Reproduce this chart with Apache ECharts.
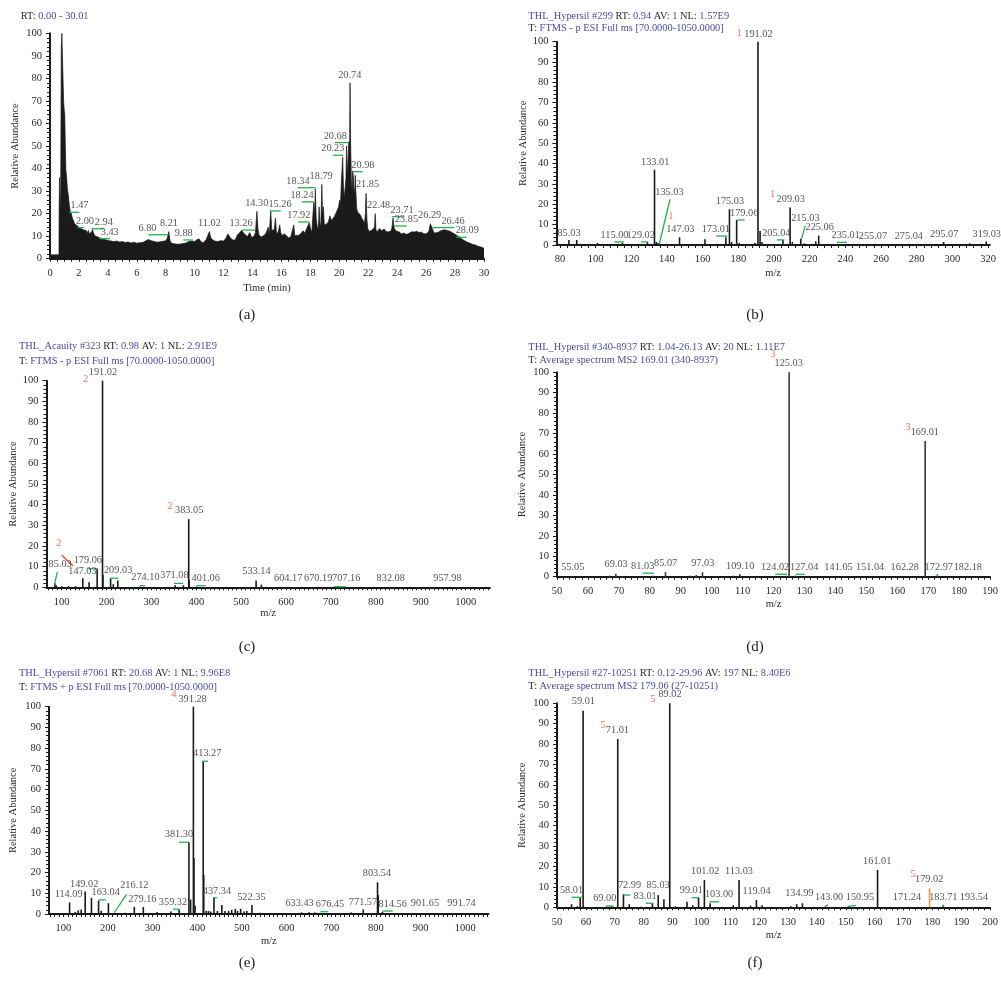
<!DOCTYPE html>
<html>
<head>
<meta charset="utf-8">
<script src="https://cdn.jsdelivr.net/npm/echarts@6/dist/echarts.min.js"></script>
<style>
html, body { margin: 0; padding: 0; background: #fff; }
#main { width: 1001px; height: 983px; }
</style>
</head>
<body>
<div id="main"></div>
<script>
// ---------- data ----------
// (a) total ion chromatogram: [time (min), relative abundance]
var chromatogram = [
    [0, 1.7], [0.3, 1.7], [0.62, 1.7], [0.63, 20], [0.66, 36], [0.7, 22], [0.74, 30], [0.78, 94], [0.82, 100], [0.86, 100],
    [0.9, 80], [0.94, 70], [0.98, 66], [1.02, 64], [1.06, 50], [1.1, 39], [1.15, 36], [1.2, 31], [1.27, 28], [1.33, 24],
    [1.4, 21], [1.47, 20], [1.55, 18], [1.62, 17], [1.7, 15.5], [1.8, 15], [1.9, 14.5], [2.0, 14], [2.1, 13.5], [2.2, 13.8],
    [2.3, 12.8], [2.4, 13], [2.5, 12.5], [2.58, 11.2], [2.65, 12.6], [2.72, 11], [2.8, 10.5], [2.88, 12], [2.94, 13], [3.0, 11.5],
    [3.1, 10.2], [3.2, 10], [3.3, 9.6], [3.43, 9.2], [3.55, 9], [3.7, 8.6], [3.85, 8.4], [4.0, 8.1], [4.2, 7.9], [4.4, 7.6],
    [4.6, 7.8], [4.8, 7.4], [5.0, 7.6], [5.2, 7.2], [5.4, 7.4], [5.6, 7.0], [5.8, 7.3], [6.0, 6.9], [6.2, 7.1], [6.4, 7.2],
    [6.6, 7.8], [6.8, 8.5], [7.0, 8.0], [7.2, 7.6], [7.4, 7.3], [7.6, 7.5], [7.8, 7.7], [8.0, 8.0], [8.1, 9], [8.21, 12],
    [8.3, 8], [8.4, 6.8], [8.6, 6.6], [8.8, 6.4], [9.0, 6.5], [9.2, 6.7], [9.4, 7], [9.6, 7.6], [9.75, 7.8], [9.88, 8.2],
    [10.0, 7.6], [10.15, 8.4], [10.3, 8.8], [10.45, 7.4], [10.6, 7.2], [10.8, 8.5], [10.95, 11], [11.02, 12], [11.1, 9.5], [11.25, 8.3],
    [11.4, 7.8], [11.6, 7.6], [11.8, 8], [12.0, 7.8], [12.15, 9], [12.3, 11], [12.45, 9.4], [12.6, 8.4], [12.8, 8.2], [12.95, 10.5],
    [13.1, 11.5], [13.26, 12.6], [13.4, 11.2], [13.5, 10.4], [13.65, 9.8], [13.8, 11.6], [13.95, 9.4], [14.1, 10], [14.2, 11.5], [14.3, 21],
    [14.38, 13], [14.45, 10.5], [14.6, 9.6], [14.75, 10.2], [14.9, 11], [15.0, 12.5], [15.08, 14], [15.15, 11], [15.26, 21], [15.33, 12.5],
    [15.42, 11.8], [15.5, 13], [15.58, 18], [15.65, 12], [15.72, 11], [15.8, 12.5], [15.88, 15], [15.95, 11.5], [16.05, 10.4], [16.2, 11],
    [16.35, 10.2], [16.5, 9.2], [16.65, 9.8], [16.75, 10.3], [16.85, 15], [16.92, 10.2], [17.05, 9.8], [17.2, 10.4], [17.35, 11.2], [17.5, 12.4],
    [17.6, 11.3], [17.7, 12], [17.82, 14.5], [17.92, 16], [18.02, 13], [18.1, 12], [18.18, 20], [18.24, 25], [18.29, 19], [18.34, 31],
    [18.4, 18], [18.47, 14.5], [18.55, 13], [18.6, 23], [18.66, 16], [18.72, 14], [18.79, 33], [18.84, 20], [18.9, 23], [18.96, 15],
    [19.05, 14.2], [19.15, 15.5], [19.25, 16.5], [19.35, 19], [19.45, 17], [19.55, 17.8], [19.65, 18.6], [19.75, 20], [19.85, 21.5], [19.95, 23],
    [20.02, 26], [20.08, 24], [20.14, 34], [20.19, 40], [20.23, 45], [20.28, 33], [20.34, 27], [20.4, 31], [20.46, 36], [20.5, 50],
    [20.55, 37], [20.6, 44], [20.64, 51], [20.68, 52], [20.71, 50], [20.74, 78], [20.78, 52], [20.83, 35], [20.88, 30], [20.92, 39],
    [20.98, 36], [21.03, 28], [21.08, 32], [21.1, 37], [21.14, 30], [21.2, 22], [21.28, 20.5], [21.36, 21], [21.45, 19.5], [21.55, 18],
    [21.65, 17], [21.74, 15.5], [21.8, 20], [21.85, 29], [21.9, 18], [21.96, 13.5], [22.05, 12.2], [22.15, 13], [22.25, 12.6], [22.35, 13.2],
    [22.43, 14], [22.48, 20], [22.53, 13], [22.6, 12], [22.7, 12.8], [22.8, 13.4], [22.9, 12.4], [23.0, 12.8], [23.1, 13.2], [23.2, 12.2],
    [23.3, 12.8], [23.4, 11.8], [23.5, 12.4], [23.6, 12.6], [23.66, 15], [23.71, 18], [23.76, 15], [23.8, 13.5], [23.85, 14], [23.9, 12.4],
    [24.0, 11.6], [24.15, 11.8], [24.3, 11], [24.45, 11.4], [24.6, 10.8], [24.75, 11], [24.9, 11.6], [25.05, 12], [25.2, 11.8], [25.35, 12.2],
    [25.5, 11.6], [25.65, 11.8], [25.8, 11.2], [25.95, 11], [26.1, 11.4], [26.2, 12.4], [26.29, 15.5], [26.36, 14.8], [26.45, 13], [26.55, 11.4],
    [26.65, 11], [26.8, 11.6], [26.95, 12.2], [27.1, 12.6], [27.25, 12.8], [27.4, 12.6], [27.55, 12.4], [27.7, 12], [27.85, 11.4], [28.0, 10.8],
    [28.15, 10.2], [28.3, 9.6], [28.45, 8.8], [28.6, 8.2], [28.75, 7.6], [28.9, 7.2], [29.05, 6.8], [29.2, 6.4], [29.35, 6.2], [29.5, 5.8],
    [29.65, 5.4], [29.8, 5.2], [29.9, 4.9], [30.0, 4.6]
];

// (b) full MS, #299
var bMz = [85.03, 89.4, 101.1, 120.0, 115.00, 129.02, 133.01, 134.0, 135.03, 147.03, 150.0, 161.3, 173.01, 175.03, 176.2, 179.06, 180.5,
    189.3, 191.02, 192.2, 193.3, 205.04, 207.4, 209.03, 210.3, 215.03, 217.0, 223.4, 225.06, 235.01, 255.07, 275.04, 289.3, 295.07, 309.7, 319.03];
var bAbund = [2.5, 2.5, 1, 0.5, 1, 1.5, 37, 1.5, 1, 3.8, 0.5, 2.8, 3.8, 17.6, 1.5, 12.3, 1, 1, 100, 6.9, 1.5, 2.5, 0.5, 18.5, 1.5, 3,
    0.8, 1.8, 4.6, 0.5, 0.3, 0.2, 0.5, 1.5, 0.8, 1.8];

// (c) full MS, #323
var cMz = [85.03, 88, 100, 115, 131, 147.03, 161, 179.06, 191.02, 192, 209.03, 215, 225, 274.10, 353, 371.08, 383.05, 384, 401.06,
    533.14, 545, 604.17, 670.19, 707.16, 832.08, 957.98];
var cAbund = [2, 1, 0.5, 0.5, 0.5, 4.4, 2.4, 8.9, 100, 6, 4.3, 1.5, 3.3, 0.4, 1, 1, 33, 3.5, 0.4, 3.3, 1.3, 0.2, 0.2, 0.3, 0.1, 0.1];

// (d) MS2 of 169.01
var dMz = [55.05, 67.0, 69.03, 71.0, 81.03, 85.07, 93.0, 95.0, 97.03, 107.0, 109.10, 124.02, 125.03, 127.04, 141.05, 151.04, 162.28,
    169.01, 172.97, 182.18];
var dAbund = [0.3, 0.5, 1.5, 0.3, 0.5, 2.2, 0.5, 0.8, 2.2, 0.5, 1.2, 0.5, 100, 0.5, 0.2, 0.2, 0.1, 66.4, 0.5, 0.1];

// (e) full MS (+), #7061
var eMz = [114.09, 127, 133.5, 140, 149.02, 163.04, 179, 185, 201, 216.12, 238, 259, 279.16, 310, 341, 359.32, 381.30, 385, 391.28,
    392.5, 395, 413.27, 414.5, 420, 425, 430, 437.34, 445, 455, 462, 470, 477, 485, 490, 497, 505, 511, 522.35, 540, 633.43, 650, 663,
    676.45, 710, 745, 771.57, 803.54, 805, 814.56, 870, 901.65, 991.74];
var eAbund = [5.6, 1, 1.8, 2.2, 10.8, 7.8, 6.5, 1.5, 5.2, 0.5, 0.6, 3.4, 3.4, 1, 1.2, 2, 34.6, 7, 100, 27, 4, 73.5, 18.8, 1.5, 1.5,
    1.2, 7.9, 1.5, 4.3, 1.5, 1.5, 2, 2.5, 1.5, 2.5, 1.2, 1.5, 4.3, 0.6, 0.8, 0.8, 0.8, 0.5, 0.4, 0.8, 2.2, 15.3, 9.2, 1, 0.5, 0.3, 0.2];

// (f) MS2 of 179.06
var fMz = [55.0, 57.0, 58.01, 59.01, 69.00, 71.01, 72.99, 75.0, 79.0, 83.01, 85.03, 87.0, 89.02, 91.0, 95.0, 97.0, 99.01, 101.02,
    103.00, 111.0, 113.03, 117.0, 119.04, 121.0, 131.0, 133.0, 134.99, 143.00, 150.95, 161.01, 171.24, 183.71, 193.54];
var fAbund = [1.5, 0.5, 4.7, 96.4, 0.5, 82.5, 6.4, 1.5, 0.3, 2, 6, 4, 100, 0.5, 2.7, 1, 4.7, 13.4, 2, 1, 13.4, 0.8, 3.6, 1, 0.5,
    1.5, 2, 0.5, 0.5, 18.3, 0.2, 0.5, 0.2];
var fPrecursorMz = [179.02];
var fPrecursorAbund = [9.3];

// ---------- annotations: [text, m/z or time, abundance level] ----------
var aNotes = [['1.47', 2.04, 20.6], ['2.00', 2.42, 13.8], ['2.94', 3.72, 13.3], ['3.43', 4.13, 8.9], ['6.80', 6.74, 10.6],
    ['8.21', 8.22, 12.7], ['9.88', 9.24, 8.3], ['11.02', 11.02, 12.7], ['13.26', 13.2, 12.7], ['14.30', 14.29, 21.6],
    ['15.26', 15.9, 21.2], ['17.92', 17.2, 16.3], ['18.24', 17.42, 25.2], ['18.34', 17.14, 31.5], ['18.79', 18.74, 33.7],
    ['20.23', 19.55, 45.9], ['20.68', 19.72, 51.5], ['20.74', 20.72, 78.5], ['20.98', 21.63, 38.6], ['21.85', 21.95, 30],
    ['22.48', 22.72, 20.7], ['23.71', 24.33, 18.6], ['23.85', 24.64, 14.5], ['26.29', 26.24, 16.3], ['26.46', 27.86, 13.8],
    ['28.09', 28.84, 9.5]];
var aLeads = [[1.33, 20.6, 2.03, 20.6], [1.89, 13.8, 2.35, 13.8], [2.88, 13.3, 3.73, 13.3], [3.41, 8.9, 4.15, 8.9],
    [6.8, 10.6, 8.18, 10.6], [9.22, 8.3, 9.9, 8.3], [13.29, 12.7, 14.17, 12.7], [15.2, 21.2, 15.95, 21.2],
    [17.16, 16.3, 17.92, 16.3], [17.4, 25.2, 18.25, 25.2], [17.12, 31.5, 18.36, 31.5], [19.58, 45.9, 20.27, 45.9],
    [19.7, 51.5, 20.62, 51.5], [20.92, 38.6, 21.62, 38.6], [23.62, 18.6, 24.42, 18.6], [23.8, 14.5, 24.66, 14.5],
    [26.43, 13.8, 27.93, 13.8], [28.06, 9.5, 28.8, 9.5]];

var bNotes = [['85.03', 85.05, 2.5], ['115.00', 110.6, 1.6], ['129.02', 125.3, 1.6], ['133.01', 133.4, 37.7],
    ['135.03', 141.4, 22.5], ['147.03', 147.5, 4.6], ['173.01', 167.4, 4.5], ['175.03', 175.3, 18.5], ['179.06', 183.3, 12.4],
    ['191.02', 191.3, 100.5], ['205.04', 201.3, 2.6], ['209.03', 209.4, 19.2], ['215.03', 217.6, 9.8], ['225.06', 225.6, 5.7],
    ['235.01', 240.2, 1.4], ['255.07', 255.5, 1.3], ['275.04', 275.6, 1], ['295.07', 295.4, 2], ['319.03', 319.3, 2]];
var bLeads = [[110.5, 1.5, 115.9, 1.5], [125.4, 1.5, 129.5, 1.5], [135.7, 0.5, 141.7, 22.5], [167.5, 4.4, 173.9, 4.4],
    [179.4, 12.3, 183.5, 12.3], [201.5, 2.5, 205.8, 2.5], [215.4, 2.8, 217.5, 9.4], [235.2, 1.3, 240.8, 1.3]];
var bMarks = [[180.4, 100.8], [199.3, 21.6], [142.2, 10.8]];

var cNotes = [['85.03', 96.7, 8], ['147.03', 146.3, 4.4], ['179.06', 158.2, 9.7], ['191.02', 192, 101], ['209.03', 225.8, 5.1],
    ['274.10', 286.7, 1.6], ['371.08', 351.3, 2.7], ['383.05', 384, 34.2], ['401.06', 421, 1.1], ['533.14', 534, 4.4],
    ['604.17', 604.6, 1], ['670.19', 671.4, 1], ['707.16', 733.8, 1], ['832.08', 833.1, 1], ['957.98', 959.4, 1]];
var cLeads = [[83.5, 1.1, 90.2, 7.3], [157.9, 9.0, 180.2, 9.0], [207.6, 4.4, 226.1, 4.4], [274.4, 0.8, 285.6, 0.8],
    [350.2, 1.9, 370.9, 1.9], [400.7, 0.8, 420.8, 0.8], [707.3, 0.3, 732.7, 0.3]];
var cMarks = [[153.5, 97.4], [341.3, 36], [94, 18]];
var cRedLeads = [[100, 15.6, 125.8, 10.3]];

var dNotes = [['55.05', 55.1, 1.2], ['69.03', 69.1, 2.9], ['81.03', 77.7, 1.9], ['85.07', 85.1, 3.3], ['97.03', 97.1, 3.3],
    ['109.10', 109.2, 2.1], ['124.02', 120.5, 1.2], ['125.03', 124.9, 101], ['127.04', 129.9, 1.2], ['141.05', 141, 1.2],
    ['151.04', 151.2, 1.2], ['162.28', 162.4, 1.2], ['169.01', 168.9, 67.4], ['172.97', 173.4, 1.2], ['182.18', 182.8, 1.2]];
var dLeads = [[77.7, 1.7, 81.4, 1.7], [120.5, 1.2, 124.3, 1.2], [127.2, 1.2, 130, 1.2], [172.6, 0.5, 173.2, 1.2]];
var dMarks = [[119.8, 105.3], [163.4, 69.8]];

var eNotes = [['114.09', 112, 6.4], ['149.02', 146.7, 11.3], ['163.04', 195, 7.1], ['216.12', 259.1, 10.5], ['279.16', 277, 4],
    ['359.32', 345.6, 2.7], ['381.30', 359, 35.2], ['391.28', 389.5, 100.5], ['413.27', 422.3, 74.3], ['437.34', 444, 8],
    ['522.35', 521.1, 4.8], ['633.43', 629, 1.9], ['676.45', 697.2, 1.6], ['771.57', 771, 2.7], ['803.54', 802.3, 16.4],
    ['814.56', 837.6, 1.7], ['901.65', 909.6, 1.9], ['991.74', 991.6, 1.9]];
var eLeads = [[179.1, 6.8, 195.4, 6.8], [214, 0.6, 241.7, 9.5], [345.9, 2.3, 360.8, 2.3], [359.3, 34.6, 381, 34.6],
    [410.7, 73.7, 424, 73.7], [435.3, 7.9, 444, 7.9], [675.3, 1.1, 692.3, 1.1], [814, 1.4, 837.6, 1.4]];
var eMarks = [[347.4, 102.5]];

var fNotes = [['58.01', 55.0, 5.2], ['59.01', 59.1, 97.8], ['69.00', 66.5, 1.1], ['71.01', 70.9, 83.6], ['72.99', 75.1, 7.4],
    ['83.01', 80.5, 2.3], ['85.03', 85.0, 7.4], ['89.02', 89.1, 101.3], ['99.01', 96.5, 5.2], ['101.02', 101.3, 14.5],
    ['103.00', 106.1, 3], ['113.03', 113.0, 14.5], ['119.04', 119.1, 4.7], ['134.99', 133.9, 3.6], ['143.00', 144.2, 1.8],
    ['150.95', 154.9, 1.8], ['161.01', 160.9, 19.4], ['171.24', 171.2, 1.8], ['179.02', 178.9, 10.4], ['183.71', 183.8, 1.8],
    ['193.54', 194.4, 1.8]];
var fLeads = [[55.0, 4.9, 58.5, 4.9], [66.8, 0.6, 69.6, 0.6], [73.0, 6, 75.4, 6], [80.8, 2, 83.4, 2], [96.6, 4.7, 99.1, 4.7],
    [102.8, 2.7, 106.2, 2.7], [142.9, 0.5, 143.8, 1.2], [150.7, 0.5, 153.5, 0.9], [183.3, 0.4, 184.1, 1.2]];
var fMarks = [[83.2, 98.4], [65.9, 85.7], [173.3, 12.9]];

// ---------- styling ----------
var FONT = 'Liberation Serif';
var INK = '#1a1a1a';
var TXT = '#2b2b2b';
var BLUE = '#4b4ba6';
var GREEN = '#22b14c';
var RED = '#ee4a3a';
var ORANGE = '#f39a3a';

function steps(a, b, s) {
    var r = [];
    for (var k = 0; a + k * s <= b + 1e-9; k++) r.push(+(a + k * s).toFixed(3));
    return r;
}

// grid geometry per panel: [left, top, width, height]
var grids = [
    [50, 33.3, 434, 225.4],
    [556.4, 41.7, 433.4, 203.3],
    [46.4, 380.7, 443.5, 206.6],
    [557, 372.3, 436.1, 204.4],
    [49, 706.7, 439.5, 207.3],
    [557.1, 703.3, 436.4, 204]
];
// x axes: [min, max, tickStart, tickStep, labelStart, labelStep, name, nameGap]
var xSpecs = [
    [0, 30, 0, 0.5, 0, 2, 'Time (min)', 24],
    [78, 321, 80, 4, 80, 20, 'm/z', 23],
    [66, 1054, 70, 10, 100, 100, 'm/z', 18],
    [50, 190, 50, 2, 50, 10, 'm/z', 22],
    [68, 1052, 70, 10, 100, 100, 'm/z', 22],
    [50, 200, 50, 2, 50, 10, 'm/z', 22]
];
var yNameGaps = [29, 28, 27, 29, 30, 29];

var xAxes = xSpecs.map(function (s, i) {
    return {
        gridIndex: i, type: 'value', min: s[0], max: s[1],
        name: s[6], nameLocation: 'middle', nameGap: s[7],
        nameTextStyle: { fontFamily: FONT, fontSize: 10.5, color: TXT },
        axisLine: { onZero: false, lineStyle: { color: INK, width: 2 } },
        axisTick: { customValues: steps(s[2], s[1], s[3]), length: 3, lineStyle: { color: INK, width: 1 } },
        axisLabel: {
            customValues: steps(s[4], s[1], s[5]), fontFamily: FONT, fontSize: 10.5, color: TXT, margin: 9,
            formatter: function (v) { return String(v); }
        },
        splitLine: { show: false }
    };
});

var yAxes = grids.map(function (g, i) {
    return {
        gridIndex: i, type: 'value', min: 0, max: 100, interval: 10,
        name: 'Relative Abundance', nameLocation: 'middle', nameGap: yNameGaps[i], nameRotate: 90,
        nameTextStyle: { fontFamily: FONT, fontSize: 10.5, color: TXT },
        axisLine: { show: true, onZero: false, lineStyle: { color: INK, width: 2 } },
        axisTick: { show: true, length: 4, lineStyle: { color: INK, width: 1 } },
        minorTick: { show: true, splitNumber: 5, length: 3, lineStyle: { color: INK, width: 1 } },
        axisLabel: { fontFamily: FONT, fontSize: 10.5, color: TXT, margin: 8 },
        splitLine: { show: false }
    };
});

function sticks(i, xs, ys, color) {
    return {
        type: 'custom', xAxisIndex: i, yAxisIndex: i, silent: true, z: 3,
        data: xs.map(function (x, k) { return [x, ys[k]]; }),
        renderItem: function (params, api) {
            var p0 = api.coord([api.value(0), 0]);
            var p1 = api.coord([api.value(0), api.value(1)]);
            return { type: 'line', shape: { x1: p0[0], y1: p0[1], x2: p1[0], y2: p1[1] },
                style: { stroke: color, lineWidth: 1.6 } };
        }
    };
}

function leads(i, list, color) {
    return {
        type: 'custom', xAxisIndex: i, yAxisIndex: i, silent: true, z: 4, clip: false,
        data: list,
        renderItem: function (params, api) {
            var p0 = api.coord([api.value(0), api.value(1)]);
            var p1 = api.coord([api.value(2), api.value(3)]);
            return { type: 'line', shape: { x1: p0[0], y1: p0[1], x2: p1[0], y2: p1[1] },
                style: { stroke: color, lineWidth: 1.3 } };
        }
    };
}

function notes(i, list, color, size) {
    return {
        type: 'scatter', xAxisIndex: i, yAxisIndex: i, silent: true, z: 5, clip: false,
        symbolSize: 1, itemStyle: { color: 'rgba(0,0,0,0)' },
        data: list.map(function (n) { return { name: n[0], value: [n[1], n[2]] }; }),
        label: { show: true, position: 'top', distance: 1, formatter: '{b}',
            fontFamily: FONT, fontSize: size || 10.3, color: color || TXT }
    };
}

function marks(i, list, tag) {
    return notes(i, list.map(function (m) { return [tag, m[0], m[1]]; }), RED, 10.5);
}

var series = [
    {
        type: 'line', xAxisIndex: 0, yAxisIndex: 0, data: chromatogram, showSymbol: false, silent: true,
        lineStyle: { color: INK, width: 0.7 }, areaStyle: { color: INK, opacity: 1 }
    },
    notes(0, aNotes), leads(0, aLeads, GREEN),
    sticks(1, bMz, bAbund, INK), notes(1, bNotes), leads(1, bLeads, GREEN), marks(1, bMarks, '1'),
    sticks(2, cMz, cAbund, INK), notes(2, cNotes), leads(2, cLeads, GREEN), leads(2, cRedLeads, RED), marks(2, cMarks, '2'),
    sticks(3, dMz, dAbund, '#383838'), notes(3, dNotes), leads(3, dLeads, GREEN), marks(3, dMarks, '3'),
    sticks(4, eMz, eAbund, INK), notes(4, eNotes), leads(4, eLeads, GREEN), marks(4, eMarks, '4'),
    sticks(5, fMz, fAbund, INK), sticks(5, fPrecursorMz, fPrecursorAbund, ORANGE),
    notes(5, fNotes), leads(5, fLeads, GREEN), marks(5, fMarks, '5')
];

function header(left, top, lineH, text) {
    return {
        left: left, top: top, padding: 0, text: text,
        textStyle: {
            fontFamily: FONT, fontSize: 10.4, fontWeight: 'normal', color: TXT, lineHeight: lineH,
            rich: {
                k: { fontFamily: FONT, fontSize: 10.4, color: TXT, lineHeight: lineH },
                v: { fontFamily: FONT, fontSize: 10.4, color: BLUE, lineHeight: lineH }
            }
        }
    };
}

var titles = [
    header(20.7, 10.5, 12.5, '{k|RT:} {v|0.00 - 30.01}'),
    header(528.3, 10, 12.5, '{v|THL_Hypersil #299} {k|RT:} {v|0.94} {k|AV:} {v|1} {k|NL:} {v|1.57E9}\n{k|T:} {v|FTMS - p ESI Full ms [70.0000-1050.0000]}'),
    header(19, 339, 14.6, '{v|THL_Acauity #323} {k|RT:} {v|0.98} {k|AV:} {v|1} {k|NL:} {v|2.91E9}\n{k|T:} {v|FTMS - p ESI Full ms [70.0000-1050.0000]}'),
    header(528.3, 341.3, 12.7, '{v|THL_Hypersil #340-8937} {k|RT:} {v|1.04-26.13} {k|AV:} {v|20} {k|NL:} {v|1.11E7}\n{k|T:} {v|Average spectrum MS2 169.01 (340-8937)}'),
    header(19, 667, 13.4, '{v|THL_Hypersil #7061} {k|RT:} {v|20.68} {k|AV:} {v|1} {k|NL:} {v|9.96E8}\n{k|T:} {v|FTMS + p ESI Full ms [70.0000-1050.0000]}'),
    header(528.3, 667.4, 12.4, '{v|THL_Hypersil #27-10251} {k|RT:} {v|0.12-29.96} {k|AV:} {v|197} {k|NL:} {v|8.40E6}\n{k|T:} {v|Average spectrum MS2 179.06 (27-10251)}')
];

var captions = [['(a)', 247, 315], ['(b)', 755, 315], ['(c)', 247, 647], ['(d)', 755, 647], ['(e)', 247, 963], ['(f)', 755, 963]];

var myChart = echarts.init(document.querySelector('#main'), null, { renderer: 'canvas' });

myChart.setOption({
    animation: false,
    backgroundColor: '#fff',
    title: titles,
    grid: grids.map(function (g) {
        return { left: g[0], top: g[1], width: g[2], height: g[3], containLabel: false };
    }),
    xAxis: xAxes,
    yAxis: yAxes,
    series: series,
    graphic: captions.map(function (c) {
        return {
            type: 'text', x: c[1], y: c[2], silent: true,
            style: { text: c[0], fontFamily: FONT, fontSize: 15, fill: '#222', align: 'center', verticalAlign: 'middle' }
        };
    })
});
</script>
</body>
</html>
